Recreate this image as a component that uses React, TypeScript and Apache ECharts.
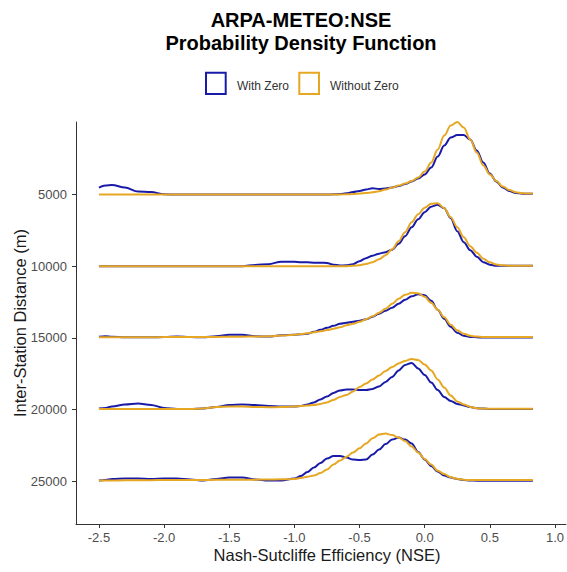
import React, { useEffect, useRef } from "react";
import * as echarts from "echarts";

// NSE grid shared by every density curve
const xGrid = [
  -2.5, -2.45, -2.4, -2.3, -2.2, -2.1, -2.0, -1.9, -1.8, -1.7, -1.6, -1.5, -1.4, -1.3, -1.2, -1.1, -1.0,
  -0.95, -0.9, -0.85, -0.8, -0.75, -0.7, -0.65, -0.6, -0.55, -0.5, -0.45, -0.4, -0.35, -0.3, -0.25, -0.2, -0.15, -0.1, -0.05,
  0, 0.05, 0.1, 0.15, 0.2, 0.25, 0.3, 0.35, 0.4, 0.45, 0.5, 0.55, 0.6, 0.65, 0.7, 0.75, 0.8, 0.83,
];

// Inter-station distance classes (ridge baselines)
const distances = [5000, 10000, 15000, 20000, 25000];
const yTicks = [5000, 10000, 15000, 20000, 25000];
const xTicks = [-2.5, -2.0, -1.5, -1.0, -0.5, 0.0, 0.5, 1.0];

// Scaled density heights — "With Zero"
const withZero5000 = [
  7, 9, 9.6, 7, 3, 2.5, 0.3, 0, 0, 0, 0, 0, 0, 0, 0, 0, 0,
  0, 0, 0, 0, 0, 0.2, 0.5, 1.2, 2.5, 3.5, 5, 6.3, 5.5, 6, 7, 8.5, 10.5, 13, 16,
  20, 27, 38, 49, 57, 59.5, 59.5, 55, 44, 32, 21, 13, 7, 3.5, 1.5, 0.8, 0.8, 0.8,
];
const withZero10000 = [
  0, 0, 0, 0, 0, 0, 0, 0, 0, 0, 0, 0, 0, 1.2, 2, 4.5, 4.5,
  4, 3.8, 3.5, 3.5, 3.2, 1.5, 0.7, 0.8, 2, 5, 8, 10.5, 12.5, 14, 16.5, 22.5, 30, 39, 47,
  54, 59.5, 61.5, 58, 48, 35, 24, 16, 9.5, 4, 1.5, 0.5, 0.5, 0.5, 0.5, 0.5, 0.5, 0.5,
];
const withZero15000 = [
  1, 1.5, 1, 0.5, 0.5, 0.5, 0.8, 1.2, 0.8, 0.5, 1.5, 3, 3, 1.5, 1.2, 2.5, 3,
  3.5, 4, 6, 8, 10, 12, 14, 15, 16, 17, 18.5, 21, 24, 27, 30, 34, 38, 41.5, 43.5,
  42.5, 37, 28, 19, 11, 5, 2, 0.8, 0.5, 0.3, 0.3, 0.3, 0.3, 0.3, 0.3, 0.3, 0.3, 0.3,
];
const withZero20000 = [
  1, 1.5, 3, 5, 6, 4.5, 1.5, 0.5, 0.5, 1, 2.5, 4.5, 5, 4.5, 3.5, 3, 3,
  3.5, 5, 7, 10, 13, 16.5, 19, 20, 20, 19.5, 19.5, 20.5, 23, 27.5, 32.5, 39, 44.5, 46.5, 41,
  34.5, 27, 19.5, 12.5, 8.5, 5.5, 4, 2.4, 1.2, 0.8, 0.3, 0.3, 0.3, 0.3, 0.3, 0.3, 0.3, 0.3,
];
const withZero25000 = [
  0.5, 1, 2, 2.5, 2.5, 2, 2.5, 2.5, 1.5, 0.5, 2, 3.5, 3.5, 1.5, 0.5, 0.5, 2.5,
  5, 9, 13.5, 18, 22.5, 25, 25, 23.5, 21.5, 21, 21.5, 26.5, 31.5, 37, 41.5, 43.5, 41.5, 37.5, 29,
  21.5, 15, 9.5, 5.5, 3.5, 2, 1, 0.5, 0.3, 0.3, 0.3, 0.3, 0.3, 0.3, 0.3, 0.3, 0.3, 0.3,
];

// Scaled density heights — "Without Zero"
const withoutZero5000 = [
  0, 0, 0, 0, 0, 0, 0, 0, 0, 0, 0, 0, 0, 0, 0, 0, 0,
  0, 0, 0, 0, 0, 0, 0, 0.3, 0.5, 1, 1.5, 2.2, 3.2, 5, 7, 9, 11, 13.5, 17,
  23, 32, 45, 59, 69, 72.5, 67, 55, 42, 29, 20, 13.5, 8, 4.5, 2.2, 1.2, 1, 1,
];
const withoutZero10000 = [
  0, 0, 0, 0, 0, 0, 0, 0, 0, 0, 0, 0, 0, 0, 0, 0, 0,
  0, 0, 0, 0, 0, 0, 0, 0, 0.3, 1, 2.2, 4, 7, 11, 17, 25, 34, 44, 52,
  58.5, 62.5, 63, 58, 49, 39, 29, 20, 13.5, 7.5, 4, 1.7, 0.8, 0.5, 0.5, 0.5, 0.5, 0.5,
];
const withoutZero15000 = [
  0.5, 0.5, 0.5, 0.5, 0.6, 0.6, 0.7, 0.7, 0.8, 0.8, 0.9, 1, 1.1, 1.3, 1.5, 2.2, 3,
  3.7, 4.5, 5.5, 6.5, 7.7, 9, 10.5, 12.5, 14, 16, 18.5, 21.5, 25, 29, 34, 39, 43, 45, 44.5,
  41, 35, 28, 20.5, 13, 7.5, 4, 2, 1.2, 0.8, 0.8, 0.8, 0.8, 0.8, 0.8, 0.8, 0.8, 0.8,
];
const withoutZero20000 = [
  0.5, 0.5, 0.5, 0.5, 0.5, 0.5, 0.5, 0.5, 0.5, 1, 2.5, 3, 3, 2.5, 2.2, 2.3, 3,
  3.5, 4, 4.5, 5.5, 7, 9.5, 12.5, 14.5, 18, 22.5, 26, 30, 34, 38.5, 42.5, 46, 48.5, 50.5, 49.5,
  45, 39, 30, 22, 14, 8, 5, 2.5, 1.2, 0.8, 0.7, 0.7, 0.7, 0.7, 0.7, 0.7, 0.7, 0.7,
];
const withoutZero25000 = [
  0.5, 0.5, 0.6, 0.7, 0.8, 0.9, 1, 1, 1.1, 1.1, 1.2, 1.2, 1.3, 1.4, 1.5, 1.7, 2,
  3, 4.3, 5.5, 8, 11.5, 16.5, 20.5, 24.3, 28.5, 32.7, 37.5, 42.7, 46.5, 47.5, 46, 43.5, 40, 34.5, 28.6,
  22, 16.5, 10.3, 7, 3.8, 2.2, 1.2, 1, 1, 1, 1, 1, 1, 1, 1, 1, 1, 1,
];

const withZero = [withZero5000, withZero10000, withZero15000, withZero20000, withZero25000];
const withoutZero = [withoutZero5000, withoutZero10000, withoutZero15000, withoutZero20000, withoutZero25000];

const BLUE = "#1a1aa8";
const ORANGE = "#e6a823";
const FONT = "'Liberation Sans', Arial, Helvetica, sans-serif";
const HEIGHT_SCALE = 69.74; // axis units per density-height unit

function ridge(base: number, h: number[]) {
  return xGrid.map((x, i) => [x, base - h[i] * HEIGHT_SCALE]);
}

export default function App() {
  const ref = useRef<HTMLDivElement>(null);
  useEffect(() => {
    if (!ref.current) return;
    const chart = echarts.init(ref.current, undefined, { renderer: "svg" });
    const mkSeries = (name: string, color: string, sets: number[][]) =>
      distances.map((d, i) => ({
        name,
        type: "line",
        data: ridge(d, sets[i]),
        showSymbol: false,
        smooth: 0.35,
        smoothMonotone: "x",
        lineStyle: { color, width: 2 },
        itemStyle: { color },
        silent: true,
        z: color === ORANGE ? 3 : 2,
      }));
    chart.setOption({
      animation: false,
      backgroundColor: "#ffffff",
      grid: { left: 76, right: 0, top: 122, bottom: 48 },
      xAxis: {
        type: "value",
        min: -2.676,
        max: 1.084,
        axisLine: { show: true, onZero: false, lineStyle: { color: "#333333", width: 1 } },
        axisTick: { show: true, length: 4, customValues: xTicks, lineStyle: { color: "#333333" } },
        axisLabel: {
          customValues: xTicks,
          fontSize: 13,
          color: "#4d4d4d",
          fontFamily: FONT,
          margin: 7,
          formatter: (v: number) => v.toFixed(1),
        },
        splitLine: { show: false },
      },
      yAxis: {
        type: "value",
        inverse: true,
        min: -63,
        max: 28000,
        axisLine: { show: true, onZero: false, lineStyle: { color: "#333333", width: 1 } },
        axisTick: { show: true, length: 4, customValues: yTicks, lineStyle: { color: "#333333" } },
        axisLabel: {
          customValues: yTicks,
          fontSize: 13,
          color: "#4d4d4d",
          fontFamily: FONT,
          margin: 9,
          formatter: (v: number) => String(v),
        },
        splitLine: { show: false },
      },
      series: [...mkSeries("With Zero", BLUE, withZero), ...mkSeries("Without Zero", ORANGE, withoutZero)],
      graphic: [
        {
          type: "text",
          x: 301,
          y: 20,
          style: { text: "ARPA-METEO:NSE", fill: "#000", font: `bold 20px ${FONT}`, align: "center", verticalAlign: "middle" },
        },
        {
          type: "text",
          x: 301,
          y: 42.5,
          style: { text: "Probability Density Function", fill: "#000", font: `bold 20px ${FONT}`, align: "center", verticalAlign: "middle" },
        },
        {
          type: "rect",
          shape: { x: 206, y: 72.7, width: 19.7, height: 21.3 },
          style: { fill: "none", stroke: BLUE, lineWidth: 2 },
        },
        {
          type: "text",
          x: 237,
          y: 86,
          style: { text: "With Zero", fill: "#333", font: `12px ${FONT}`, align: "left", verticalAlign: "middle" },
        },
        {
          type: "rect",
          shape: { x: 299.3, y: 72.7, width: 19.7, height: 21.3 },
          style: { fill: "none", stroke: ORANGE, lineWidth: 2 },
        },
        {
          type: "text",
          x: 330,
          y: 86,
          style: { text: "Without Zero", fill: "#333", font: `12px ${FONT}`, align: "left", verticalAlign: "middle" },
        },
        {
          type: "text",
          x: 327,
          y: 555,
          style: { text: "Nash-Sutcliffe Efficiency (NSE)", fill: "#1a1a1a", font: `16.5px ${FONT}`, align: "center", verticalAlign: "middle" },
        },
        {
          type: "text",
          x: 20,
          y: 323,
          rotation: Math.PI / 2,
          style: { text: "Inter-Station Distance (m)", fill: "#1a1a1a", font: `16.5px ${FONT}`, align: "center", verticalAlign: "middle" },
        },
      ],
    });
    return () => chart.dispose();
  }, []);
  return (
    <div
      ref={ref}
      style={{ position: "absolute", left: 0, top: 0, width: 567, height: 572, background: "#fff" }}
    />
  );
}
